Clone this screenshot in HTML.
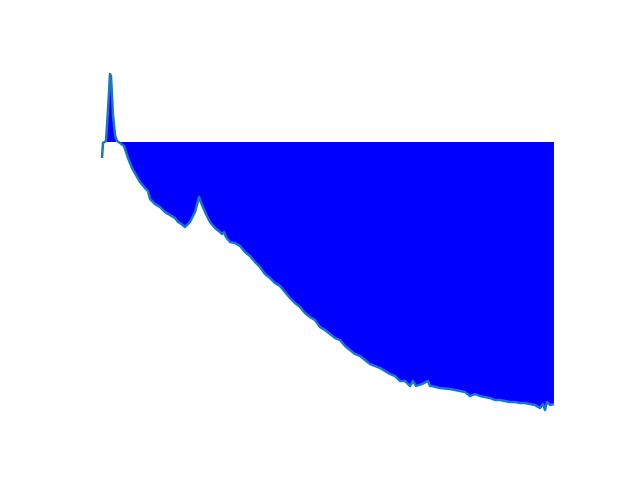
<!DOCTYPE html>
<html><head><meta charset="utf-8"><style>body{margin:0;background:#fff}svg{display:block}</style></head>
<body>
<svg id="chart" width="640" height="480" viewBox="0 0 640 480"></svg>
<script>
const xs = [0,1,4,6,8,9,11,13,15,18,22,26,30,34,38,43,46,48,53,58,63,68,73,76,78,83,88,93,97,100,104,108,113,118,120,122,124,128,133,138,143,148,153,158,163,168,173,178,183,188,193,198,203,208,213,218,223,228,233,238,243,248,253,258,263,268,273,278,283,288,293,298,303,308,311,314,320,326,328,330,338,348,358,363,368,373,378,383,388,393,398,403,408,413,418,423,428,433,438,441,443,445,448,452];
const ys = [-16,-1,1,32,68,66,27,7,1,-1,-4,-16,-26,-33,-40,-46,-49,-57,-62,-65,-70,-73,-76,-80,-81,-85,-80,-70,-55,-63,-72,-80,-86,-90,-92,-90,-95,-100,-101,-104,-110,-114,-120,-125,-132,-136,-141,-144,-150,-156,-161,-165,-171,-175,-178,-185,-188,-192,-196,-198,-204,-208,-212,-214,-218,-222,-224,-226,-229,-232,-234,-239,-239,-244,-239,-244,-242,-239,-244,-244,-246,-247,-249,-250,-254,-252,-254,-255,-256,-258,-258,-259,-260,-260,-261,-261,-262,-263,-266,-262,-268,-260,-263,-262];
const X0=102, X1=554, xMax=452, Y0=142;
const sx = v => X0 + v*(X1-X0)/xMax;
const sy = v => Y0 - v;
const svg = document.getElementById('chart');
const NS='http://www.w3.org/2000/svg';
let line = xs.map((x,i)=>sx(x).toFixed(1)+','+sy(ys[i]).toFixed(1)).join(' ');
const fill = document.createElementNS(NS,'polygon');


fill.setAttribute('points', sx(xs[0])+','+Y0+' '+line+' '+sx(xs[xs.length-1])+','+Y0);
fill.setAttribute('fill','#0000ff');
svg.appendChild(fill);
const pl = document.createElementNS(NS,'polyline');


pl.setAttribute('points', line);
pl.setAttribute('fill','none');
pl.setAttribute('stroke','#1f77b4');
pl.setAttribute('stroke-width','2.5');
pl.setAttribute('stroke-linejoin','round');
svg.appendChild(pl);
</script>
</body></html>
